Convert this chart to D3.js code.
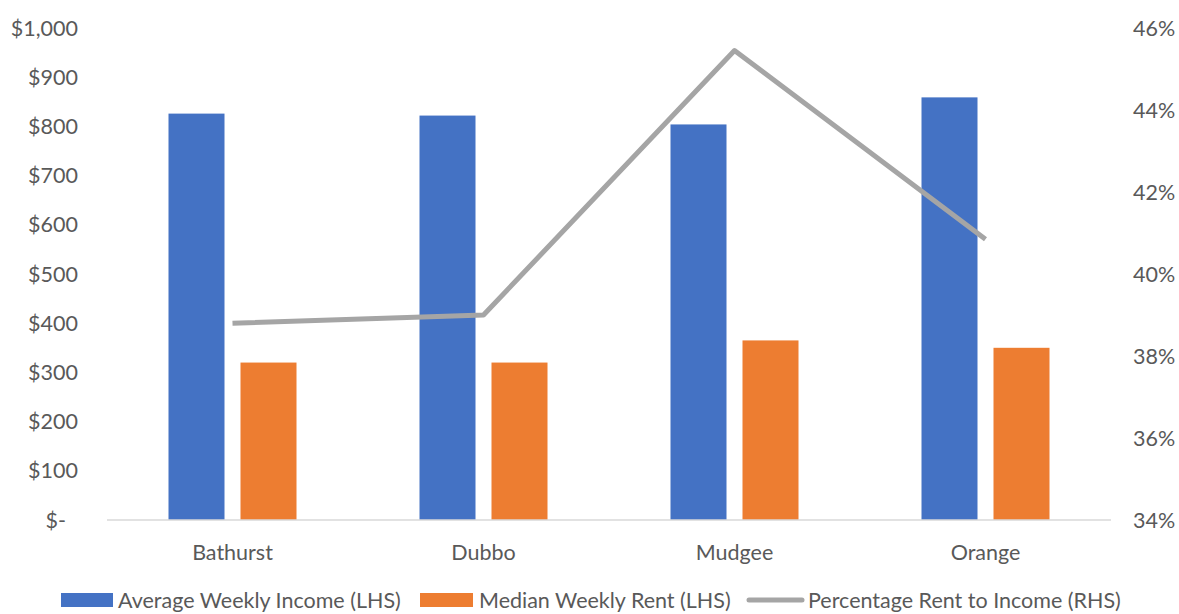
<!DOCTYPE html>
<html>
<head>
<meta charset="utf-8">
<script src="https://cdn.jsdelivr.net/npm/d3@7"></script>
<style>
  body { margin: 0; background: #fff; }
  svg text { font-family: Lato, "Open Sans", sans-serif; fill: #595959; }
</style>
</head>
<body>
<div id="chart"></div>
<script>
const towns = ['Bathurst', 'Dubbo', 'Mudgee', 'Orange'];
const avgIncome = [826, 822, 804, 859];
const medianRent = [320, 320, 365, 350];
const rentPct = [38.8, 39.0, 45.45, 40.85];
const leftTicks = [0, 100, 200, 300, 400, 500, 600, 700, 800, 900, 1000];
const rightTicks = [34, 36, 38, 40, 42, 44, 46];
const seriesNames = ['Average Weekly Income (LHS)', 'Median Weekly Rent (LHS)', 'Percentage Rent to Income (RHS)'];

{
    const width = 1179, height = 614;
    const plot = { left: 107, right: 1111, top: 28, bottom: 520 };
    const fontSize = '21.5px';

    const svg = d3.select('#chart').append('svg')
        .attr('width', width)
        .attr('height', height);

    const x = d3.scaleBand()
        .domain(towns)
        .range([plot.left, plot.right]);

    const yLeft = d3.scaleLinear().domain([0, 1000]).range([plot.bottom, plot.top]);
    const yRight = d3.scaleLinear().domain([34, 46]).range([plot.bottom, plot.top]);

    const barW = 56, gap = 16;

    // left axis labels
    svg.append('g').selectAll('text')
        .data(leftTicks)
        .enter().append('text')
        .attr('x', d => d === 0 ? 66 : 78)
        .attr('y', d => yLeft(d))
        .attr('dy', '0.35em')
        .attr('text-anchor', 'end')
        .style('font-size', fontSize)
        .text(d => d === 0 ? '$-' : '$' + d3.format(',')(d));

    // right axis labels
    svg.append('g').selectAll('text')
        .data(rightTicks)
        .enter().append('text')
        .attr('x', 1133)
        .attr('y', d => yRight(d))
        .attr('dy', '0.35em')
        .style('font-size', fontSize)
        .text(d => d + '%');

    // bars
    svg.append('g').selectAll('rect')
        .data(towns)
        .enter().append('rect')
        .attr('x', d => x(d) + x.bandwidth() / 2 - gap / 2 - barW)
        .attr('y', (d, i) => yLeft(avgIncome[i]))
        .attr('width', barW)
        .attr('height', (d, i) => yLeft(0) - yLeft(avgIncome[i]))
        .attr('fill', '#4472c4');

    svg.append('g').selectAll('rect')
        .data(towns)
        .enter().append('rect')
        .attr('x', d => x(d) + x.bandwidth() / 2 + gap / 2)
        .attr('y', (d, i) => yLeft(medianRent[i]))
        .attr('width', barW)
        .attr('height', (d, i) => yLeft(0) - yLeft(medianRent[i]))
        .attr('fill', '#ed7d31');

    // baseline
    svg.append('line')
        .attr('x1', plot.left).attr('x2', plot.right)
        .attr('y1', plot.bottom).attr('y2', plot.bottom)
        .attr('stroke', '#d9d9d9')
        .attr('stroke-width', 1.5);

    // category labels
    svg.append('g').selectAll('text')
        .data(towns)
        .enter().append('text')
        .attr('x', d => x(d) + x.bandwidth() / 2)
        .attr('y', 552)
        .attr('dy', '0.35em')
        .attr('text-anchor', 'middle')
        .style('font-size', fontSize)
        .text(d => d);

    // line
    const line = d3.line()
        .x((d, i) => x(towns[i]) + x.bandwidth() / 2)
        .y(d => yRight(d));

    svg.append('path')
        .datum(rentPct)
        .attr('d', line)
        .attr('fill', 'none')
        .attr('stroke', '#a5a5a5')
        .attr('stroke-width', 5)
        .attr('stroke-linejoin', 'round');

    // legend (reference crops it at the bottom edge; nudged up to stay readable)
    const legend = svg.append('g');
    const legY = 600;
    legend.append('rect')
        .attr('x', 61).attr('y', legY - 7)
        .attr('width', 52).attr('height', 14)
        .attr('fill', '#4472c4');
    legend.append('text')
        .attr('x', 118).attr('y', legY).attr('dy', '0.35em')
        .style('font-size', fontSize)
        .text(seriesNames[0]);

    legend.append('rect')
        .attr('x', 420).attr('y', legY - 7)
        .attr('width', 53).attr('height', 14)
        .attr('fill', '#ed7d31');
    legend.append('text')
        .attr('x', 479).attr('y', legY).attr('dy', '0.35em')
        .style('font-size', fontSize)
        .text(seriesNames[1]);

    legend.append('line')
        .attr('x1', 749).attr('x2', 802)
        .attr('y1', legY).attr('y2', legY)
        .attr('stroke', '#a5a5a5')
        .attr('stroke-width', 5)
        .attr('stroke-linecap', 'round');
    legend.append('text')
        .attr('x', 808).attr('y', legY).attr('dy', '0.35em')
        .style('font-size', fontSize)
        .text(seriesNames[2]);
}
</script>
</body>
</html>
